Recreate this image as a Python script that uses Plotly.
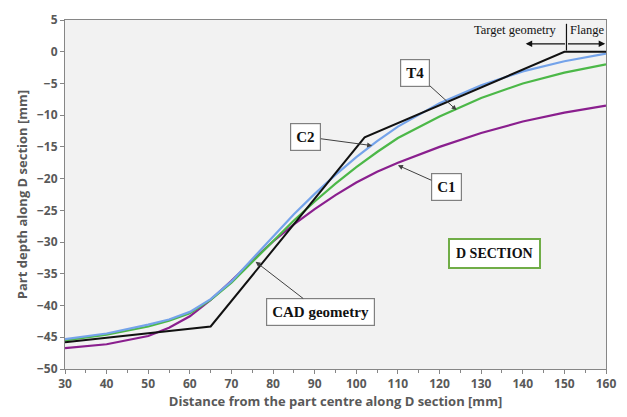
import plotly.graph_objects as go

# CAD geometry profile (piecewise linear)
cad_x = [30, 65, 102, 150, 160]
cad_y = [-45.8, -43.3, -13.5, 0.0, 0.0]

# Simulated profiles
dist = [30, 40, 50, 55, 60, 65, 70, 75, 80, 85, 90, 95, 100, 105, 110, 120, 130, 140, 150, 160]
t4_depth = [-45.3, -44.4, -43.0, -42.2, -41.0, -39.0, -36.2, -32.7, -29.1, -25.6, -22.4, -19.4, -16.6,
            -14.1, -11.8, -8.1, -5.3, -3.1, -1.5, -0.3]
c2_depth = [-45.5, -44.6, -43.3, -42.4, -41.2, -39.1, -36.4, -33.1, -29.8, -26.6, -23.6, -20.8, -18.2,
            -15.8, -13.6, -10.2, -7.3, -5.0, -3.3, -2.0]
c1_depth = [-46.7, -46.1, -44.8, -43.5, -41.7, -39.1, -36.1, -32.9, -29.9, -27.2, -24.8, -22.6, -20.6,
            -18.9, -17.5, -15.0, -12.8, -11.0, -9.6, -8.5]

fig = go.Figure()
fig.add_trace(go.Scatter(x=dist, y=c1_depth, mode="lines", line=dict(color="#8a1f8e", width=2.2), name="C1"))
fig.add_trace(go.Scatter(x=dist, y=c2_depth, mode="lines", line=dict(color="#4cb848", width=2.2), name="C2"))
fig.add_trace(go.Scatter(x=dist, y=t4_depth, mode="lines", line=dict(color="#74a3ea", width=2.2), name="T4"))
fig.add_trace(go.Scatter(x=cad_x, y=cad_y, mode="lines", line=dict(color="#111111", width=2), name="CAD"))

serif = "Liberation Serif"
box_font = dict(family=serif, size=15, color="#111111")


def label(text, x, y, ax, ay):
    fig.add_annotation(
        x=x, y=y, ax=ax, ay=ay, xref="x", yref="y", axref="x", ayref="y",
        text="<b>%s</b>" % text, font=box_font, showarrow=True,
        arrowhead=2, arrowsize=1, arrowwidth=1, arrowcolor="#404040",
        bgcolor="white", bordercolor="#808080", borderwidth=1.2, borderpad=5,
    )


label("T4", 124.1, -9.2, 114.2, -3.3)
label("C2", 103.8, -14.8, 87.9, -13.4)
label("C1", 110.0, -17.9, 121.6, -21.3)
label("CAD geometry", 75.8, -33.1, 91.4, -41.0)

fig.add_annotation(
    x=133.2, y=-31.8, xref="x", yref="y", text="<b>D SECTION</b>",
    font=dict(family=serif, size=14, color="#111111"), showarrow=False,
    bgcolor="white", bordercolor="#70ad47", borderwidth=2, borderpad=6,
)

# Target geometry / Flange marker
fig.add_annotation(x=138.2, y=3.4, xref="x", yref="y", text="Target geometry",
                   font=dict(family=serif, size=12.5, color="#111111"), showarrow=False)
fig.add_annotation(x=155.4, y=3.4, xref="x", yref="y", text="Flange",
                   font=dict(family=serif, size=12.5, color="#111111"), showarrow=False)
fig.add_shape(type="line", x0=150.5, x1=150.5, y0=4.4, y1=0.2, xref="x", yref="y",
              line=dict(color="#111111", width=1.2))
for tip in (140.7, 159.8):
    fig.add_annotation(x=tip, y=1.25, ax=150.5, ay=1.25, xref="x", yref="y", axref="x", ayref="y",
                       text="", showarrow=True, arrowhead=2, arrowsize=1, arrowwidth=1.3,
                       arrowcolor="#111111")

axis_font = dict(family="Open Sans", size=13, color="#595959", weight="bold")
tick_font = dict(family="Open Sans", size=12, color="#595959", weight="bold")

fig.update_xaxes(
    range=[30, 160], dtick=10, tick0=30, ticks="outside", ticklen=4, tickcolor="#868686",
    minor=dict(ticks="outside", ticklen=3, dtick=5, tickcolor="#868686"),
    showgrid=False, zeroline=False, showline=True, linecolor="#868686", linewidth=1, mirror=True,
    tickfont=tick_font,
    title=dict(text="Distance from the part centre along D section [mm]", font=axis_font, standoff=4),
)
fig.update_yaxes(
    range=[-50, 5], dtick=5, ticks="outside", ticklen=4, tickcolor="#868686",
    showgrid=False, zeroline=False, showline=True, linecolor="#868686", linewidth=1, mirror=True,
    tickfont=tick_font,
    title=dict(text="Part depth along D section [mm]", font=axis_font, standoff=6),
)

fig.update_layout(
    width=627, height=417,
    margin=dict(l=65, r=11, t=16, b=48),
    paper_bgcolor="white", plot_bgcolor="#f2f2f2",
    showlegend=False,
)

fig.write_html("out.html")
